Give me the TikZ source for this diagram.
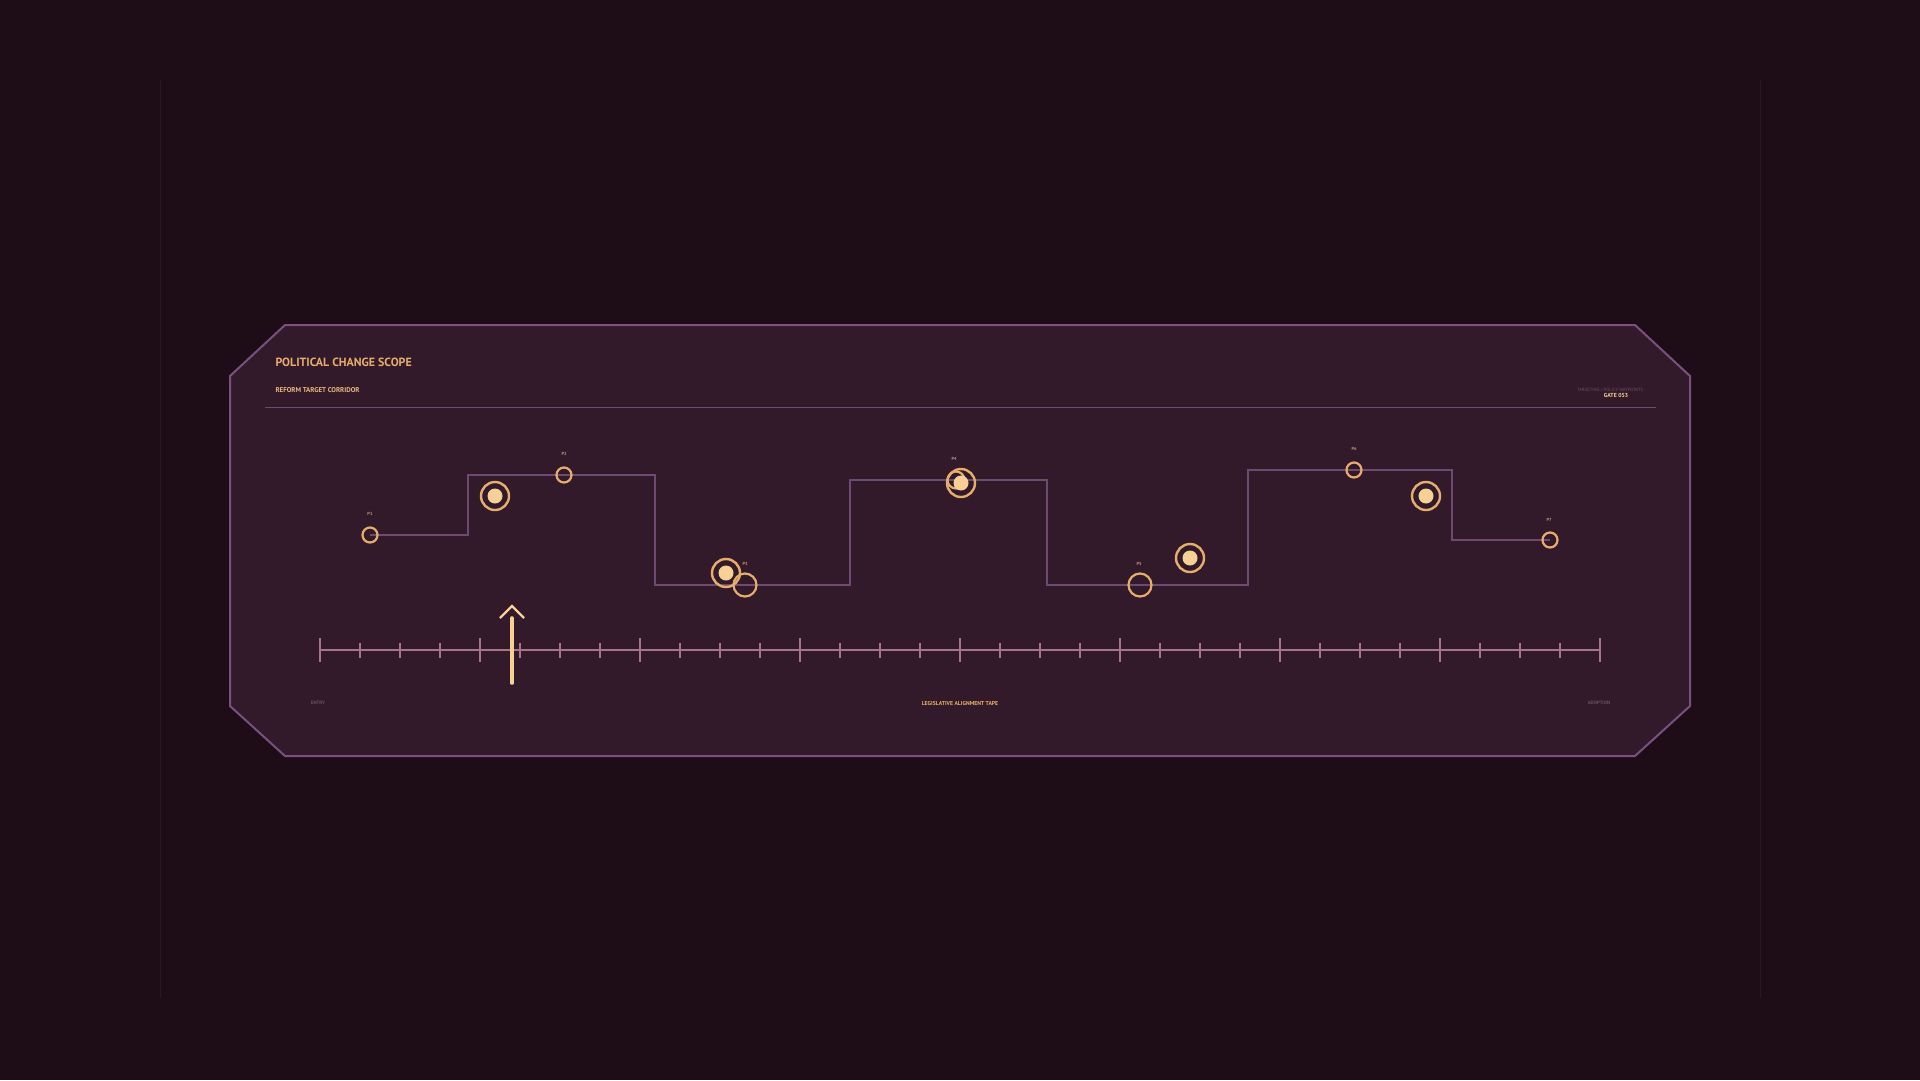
\documentclass[tikz,border=0pt]{standalone}
\usepackage{fontspec}
\setmainfont{PT Sans}
\usetikzlibrary{positioning}

\definecolor{bgdark}{HTML}{1E0D17}
\definecolor{panelfill}{HTML}{321A2A}
\definecolor{panelrim}{HTML}{7A5080}
\definecolor{stepline}{HTML}{6E4A72}
\definecolor{gold}{HTML}{E6AE6C}
\definecolor{cream}{HTML}{F7D095}
\definecolor{tickpink}{HTML}{A97586}
\definecolor{muted}{HTML}{6A5066}
\definecolor{tan}{HTML}{B99A86}
\definecolor{faint}{HTML}{2A1722}

\tikzset{
  waypt/.style={circle,draw=gold,line width=2.2pt,inner sep=0pt,minimum size=#1},
  waypt/.default=15pt,
  ring/.style={circle,draw=gold,line width=2.4pt,inner sep=0pt,minimum size=28pt},
  dot/.style={circle,fill=cream,inner sep=0pt,minimum size=15pt},
  plabel/.style={font=\bfseries\fontsize{4.4}{4.4}\selectfont,text=tan},
  small/.style={font=\bfseries\fontsize{#1}{#1}\selectfont},
}

\begin{document}
\begin{tikzpicture}[x=1pt,y=-1pt]
\useasboundingbox[fill=bgdark] (0,0) rectangle (1920,1080);
\draw[faint,line width=0.8pt] (160,80) -- (160,998) (1760,80) -- (1760,998);

% panel
\draw[panelrim,fill=panelfill,line width=2pt]
  (285,325) -- (1635,325) -- (1690,376) -- (1690,706) -- (1635,756)
  -- (285,756) -- (230,706) -- (230,376) -- cycle;

\node[small=11.9,text=gold,anchor=west] (title) at (272,362.5) {POLITICAL CHANGE SCOPE};
\node[small=6.9,text=gold!85!white,anchor=west] (subtitle) at (272,390) {REFORM TARGET CORRIDOR};
\node[text=muted,font=\fontsize{4.6}{4.6}\selectfont] (tag) at (1610,390) {TARGETING / POLICY WAYPOINTS};
\node[small=5.8,text=cream] (gate) at (1616,395.5) {GATE 053};
\coordinate (ruleL) at (265,407.5);
\coordinate (ruleR) at (1656,407.5);
\draw[stepline,line width=1.6pt] (ruleL) -- (ruleR);

% waypoints
\coordinate (p1) at (370,535);
\coordinate (p2) at (564,475);
\coordinate (p3) at (745,585);
\coordinate (p4) at (956,480);
\coordinate (p5) at (1140,585);
\coordinate (p6) at (1354,470);
\coordinate (p7) at (1550,540);

\draw[stepline,line width=2.8pt]
  (p1) -- ++(98,0) |- (p2) -- ++(91,0) |- (p3) -- ++(105,0) |- (p4)
  -- ++(91,0) |- (p5) -- ++(108,0) |- (p6) -- ++(98,0) |- (p7);

\node[waypt] (w1) at (p1) {};
\node[waypt] (w2) at (p2) {};
\node[waypt=23pt] (w3) at (p3) {};
\node[waypt=17pt] (w4) at (p4) {};
\node[waypt=23pt] (w5) at (p5) {};
\node[waypt] (w6) at (p6) {};
\node[waypt] (w7) at (p7) {};

\node[plabel] (l1) at (370,514) {P1};
\node[plabel] (l2) at (564,454) {P2};
\node[plabel] (l3) at (745,564) {P3};
\node[plabel] (l4) at (954,459) {P4};
\node[plabel] (l5) at (1139,564) {P5};
\node[plabel] (l6) at (1354,449) {P6};
\node[plabel] (l7) at (1549,520) {P7};

% targets
\foreach \n/\x/\y in {t1/495/496, t2/726/573, t3/961/483, t4/1190/558, t5/1426/496}{
  \node[ring] (\n) at (\x,\y) {};
  \node[dot] (\n d) at (\n) {};
}

% tape
\coordinate (tapeL) at (320,650);
\coordinate (tapeR) at (1600,650);
\draw[tickpink,line width=1.6pt] (tapeL) -- (tapeR);
\foreach \i in {0,...,32}{
  \pgfmathtruncatemacro{\r}{mod(\i,4)}
  \ifnum\r=0
    \draw[tickpink,line width=1.6pt] ([xshift=\i*40pt]tapeL) ++(0,-12) -- ++(0,24);
  \else
    \draw[tickpink,line width=1.4pt] ([xshift=\i*40pt]tapeL) ++(0,-7.5) -- ++(0,15);
  \fi
}

% cursor
\coordinate (cursorbase) at (512,683);
\coordinate (cursortop) at (512,618);
\coordinate (cursortip) at (512,606);
\draw[cream,line width=3.6pt,line cap=round] (cursorbase) -- (cursortop);
\draw[cream,line width=2.4pt] (cursortip) ++(-12,12) -- (cursortip) -- ++(12,12);

\node[small=4.8,text=muted] (entry) at (318,703) {ENTRY};
\node[small=5.7,text=gold] (tapename) at (960,703) {LEGISLATIVE ALIGNMENT TAPE};
\node[small=4.8,text=muted] (adoption) at (1599,703) {ADOPTION};
\end{tikzpicture}
\end{document}
